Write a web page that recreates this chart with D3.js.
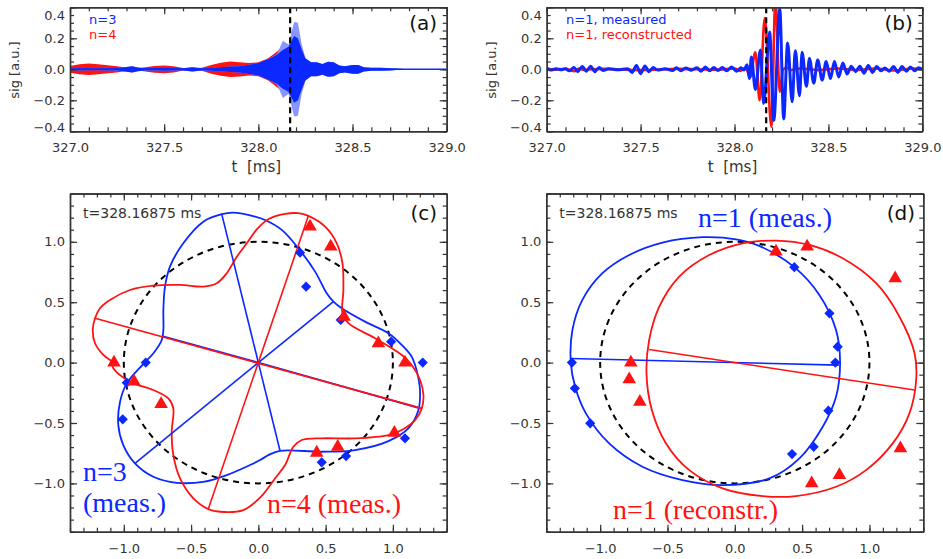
<!DOCTYPE html>
<html><head><meta charset="utf-8">
<script src="https://cdn.jsdelivr.net/npm/d3@7"></script>
<style>body{margin:0;background:#fff}svg{display:block}</style>
</head><body><svg id="c" width="943" height="559"></svg>
<script>
// ---------- DATA ----------
const tMark = 328.16875;
// panel (a): envelope of the dense n=3 / n=4 signals
const tA   = [327.00,327.05,327.10,327.15,327.20,327.25,327.30,327.33,327.36,327.40,327.45,327.50,327.55,327.60,327.65,327.70,327.75,327.80,327.85,327.90,327.95,328.00,328.05,328.10,328.13,328.16,328.19,328.21,328.23,328.25,328.28,328.31,328.34,328.37,328.40,328.43,328.46,328.50,328.53,328.56,328.60,328.65,328.70,328.75,328.80,328.90,329.00];
const n4Amp= [0.022,0.032,0.037,0.032,0.026,0.020,0.010,0.006,0.006,0.014,0.022,0.025,0.020,0.008,0.006,0.010,0.028,0.042,0.050,0.046,0.040,0.045,0.070,0.115,0.150,0.155,0.140,0.100,0.060,0.040,0.020,0.010,0.006,0.005,0.004,0.004,0.004,0.003,0.003,0.003,0.002,0.002,0.002,0.001,0.001,0.001,0.001];
const n3Amp= [0.005,0.007,0.006,0.006,0.007,0.008,0.015,0.020,0.012,0.007,0.008,0.009,0.008,0.007,0.014,0.007,0.009,0.013,0.018,0.020,0.030,0.040,0.065,0.095,0.125,0.145,0.215,0.200,0.130,0.070,0.045,0.045,0.035,0.048,0.045,0.025,0.020,0.028,0.028,0.014,0.010,0.010,0.007,0.003,0.001,0.001,0.001];
const n3Peak=[0.005,0.007,0.006,0.006,0.007,0.008,0.015,0.020,0.012,0.007,0.008,0.009,0.008,0.007,0.014,0.007,0.009,0.013,0.018,0.020,0.030,0.040,0.065,0.100,0.185,0.160,0.305,0.300,0.160,0.075,0.045,0.045,0.035,0.048,0.045,0.025,0.020,0.028,0.028,0.014,0.010,0.010,0.007,0.003,0.001,0.001,0.001];
// panel (b): extrema of n=1 measured / reconstructed signals
const n1Meas = [[327.00,0.010],[327.02,-0.005],[327.05,0.003],[327.08,-0.003],[327.10,0.004],[327.12,-0.010],[327.145,0.012],[327.165,-0.015],[327.19,0.018],[327.21,-0.012],[327.235,0.020],[327.255,-0.015],[327.28,0.012],[327.30,-0.008],[327.33,0.004],[327.38,-0.003],[327.43,0.004],[327.455,-0.020],[327.478,0.025],[327.50,-0.028],[327.523,0.022],[327.545,-0.015],[327.567,0.012],[327.59,-0.005],[327.63,0.003],[327.67,-0.008],[327.69,0.010],[327.715,-0.010],[327.74,0.008],[327.77,-0.006],[327.80,0.010],[327.822,-0.012],[327.845,0.015],[327.868,-0.010],[327.89,0.012],[327.912,-0.008],[327.935,0.012],[327.96,-0.010],[327.985,0.015],[328.01,-0.012],[328.035,0.010],[328.05,-0.005],[328.067,0.030],[328.079,-0.060],[328.09,0.080],[328.111,-0.130],[328.138,0.125],[328.155,-0.220],[328.187,0.240],[328.209,-0.330],[328.241,0.390],[328.262,-0.320],[328.283,0.170],[328.307,-0.210],[328.324,0.120],[328.346,-0.170],[328.36,0.110],[328.383,-0.110],[328.399,0.070],[328.422,-0.090],[328.443,0.060],[328.467,-0.070],[328.488,0.050],[328.511,-0.060],[328.532,0.050],[328.555,-0.050],[328.577,0.040],[328.60,-0.030],[328.622,0.020],[328.645,-0.015],[328.667,0.020],[328.69,-0.025],[328.712,0.025],[328.735,-0.020],[328.757,0.018],[328.78,-0.010],[328.80,0.008],[328.825,-0.012],[328.847,0.018],[328.87,-0.020],[328.892,0.018],[328.915,-0.012],[328.937,0.015],[328.96,-0.010],[328.98,0.010],[329.00,0.000]];
const n1Rec = [[327.00,0.005],[327.05,-0.003],[327.10,0.003],[327.15,-0.012],[327.17,0.005],[327.20,-0.003],[327.30,0.003],[327.50,-0.005],[327.70,0.003],[327.90,-0.003],[328.00,0.005],[328.03,-0.010],[328.06,0.010],[328.084,-0.050],[328.111,0.110],[328.134,-0.200],[328.161,0.330],[328.196,-0.370],[328.218,0.450],[328.241,-0.145],[328.259,0.000],[328.28,0.010],[328.30,-0.005],[328.35,0.005],[328.45,-0.005],[328.55,0.005],[328.65,-0.005],[328.75,0.005],[328.85,-0.008],[328.95,0.005],[329.00,0.000]];
// panel (c): n=3 and n=4 mode shapes (x,y), probe values, spokes
const n3Shape = [[1.165,-0.02],[1.14,0.049],[1.066,0.146],[0.967,0.243],[0.793,0.339],[0.62,0.45],[0.558,0.505],[0.508,0.574],[0.422,0.753],[0.297,0.947],[0.174,1.099],[0.05,1.181],[-0.025,1.209],[-0.186,1.242],[-0.272,1.229],[-0.409,1.167],[-0.558,0.988],[-0.657,0.795],[-0.694,0.629],[-0.706,0.436],[-0.706,0.27],[-0.718,0.187],[-0.78,0.077],[-0.855,-0.012],[-0.978,-0.172],[-1.028,-0.324],[-1.041,-0.517],[-1.004,-0.683],[-0.917,-0.834],[-0.781,-0.945],[-0.607,-0.995],[-0.409,-0.987],[-0.235,-0.931],[-0.062,-0.848],[0.013,-0.807],[0.074,-0.766],[0.161,-0.73],[0.471,-0.738],[0.719,-0.724],[0.967,-0.65],[1.115,-0.545],[1.19,-0.393],[1.202,-0.241],[1.19,-0.13]];
const n4Shape = [[1.14,-0.02],[1.066,0.063],[0.868,0.201],[0.669,0.326],[0.625,0.408],[0.632,0.601],[0.625,0.823],[0.583,0.988],[0.496,1.126],[0.372,1.215],[0.297,1.237],[0.199,1.231],[0.074,1.187],[-0.01,1.105],[-0.086,0.988],[-0.16,0.877],[-0.235,0.74],[-0.309,0.657],[-0.409,0.629],[-0.582,0.643],[-0.781,0.637],[-0.954,0.601],[-1.103,0.519],[-1.177,0.45],[-1.214,0.367],[-1.231,0.27],[-1.214,0.16],[-1.152,0.063],[-1.09,0.008],[-1.078,-0.047],[-0.954,-0.158],[-0.781,-0.227],[-0.669,-0.296],[-0.632,-0.379],[-0.644,-0.572],[-0.632,-0.766],[-0.582,-0.959],[-0.483,-1.124],[-0.372,-1.213],[-0.285,-1.235],[-0.112,-1.221],[0.02,-1.11],[0.124,-0.959],[0.199,-0.848],[0.26,-0.697],[0.323,-0.641],[0.471,-0.627],[0.719,-0.627],[0.967,-0.6],[1.066,-0.558],[1.165,-0.476],[1.215,-0.379],[1.227,-0.268],[1.202,-0.144]];
const n3Probes = [[0.31,0.91],[0.355,0.629],[0.612,0.353],[0.987,0.173],[1.222,0.0],[1.09,-0.627],[0.652,-0.774],[0.471,-0.826],[-1.008,-0.47],[-0.978,-0.166],[-0.837,0.0]];
const n4Probes = [[0.384,1.126],[0.538,0.96],[0.637,0.38],[0.892,0.16],[1.09,0.0],[1.011,-0.581],[0.59,-0.697],[0.434,-0.746],[-0.723,-0.343],[-0.924,-0.158],[-1.073,0.0]];
const n3Spokes = [[[0,0],[-0.272,1.229]],[[0,0],[0.558,0.505]],[[0,0],[-0.917,-0.834]],[[0,0],[0.161,-0.73]],[[0,0],[1.202,-0.379]],[[0,0],[-0.715,0.22]]];
const n4Spokes = [[[-1.214,0.367],[1.215,-0.379]],[[0.372,1.215],[-0.372,-1.213]]];
// panel (d): n=1 measured / reconstructed shapes, probes, spokes
const n1MeasShape = [[0.782,0],[0.752,0.27],[0.628,0.56],[0.442,0.79],[0.182,0.966],[0.009,1.021],[-0.239,1.038],[-0.537,0.993],[-0.784,0.891],[-0.983,0.74],[-1.132,0.519],[-1.206,0.27],[-1.218,0],[-1.186,-0.2],[-1.106,-0.42],[-0.933,-0.669],[-0.686,-0.862],[-0.388,-0.973],[-0.091,-1.014],[0.257,-0.959],[0.48,-0.793],[0.653,-0.531],[0.752,-0.282]];
const n1RecShape = [[1.347,-0.144],[1.335,0.077],[1.223,0.38],[1.05,0.657],[0.801,0.864],[0.554,0.974],[0.306,1.01],[0.058,0.988],[-0.19,0.891],[-0.413,0.712],[-0.561,0.463],[-0.636,0.187],[-0.656,-0.089],[-0.616,-0.393],[-0.511,-0.669],[-0.338,-0.89],[-0.091,-1.041],[0.207,-1.105],[0.455,-1.105],[0.752,-1.028],[0.975,-0.89],[1.173,-0.669],[1.297,-0.42]];
const n1MeasProbes = [[-1.21,0],[-1.188,-0.213],[-1.074,-0.503],[0.442,0.79],[0.703,0.408],[0.764,0.132],[0.747,0],[0.695,-0.398],[0.586,-0.697],[0.425,-0.757]];
const n1RecProbes = [[0.306,0.919],[0.537,0.96],[1.191,0.698],[1.23,-0.71],[0.777,-0.931],[0.571,-1.0],[-0.705,-0.324],[-0.784,-0.138],[-0.772,0]];
const n1MeasSpoke = [[-1.22,0.034],[0.772,-0.021]];
const n1RecSpoke = [[-0.636,0.108],[1.335,-0.227]];
// ticks
const tTicks = [327.0,327.5,328.0,328.5,329.0];
const sigTicks = [-0.4,-0.2,0.0,0.2,0.4];
const posTicks = [-1.0,-0.5,0.0,0.5,1.0];

// ---------- DRAW ----------
const BLUE="#0a28ff", LBLUE="#8a96ff", RED="#ff1212", AX="#333";
const svg=d3.select("#c");
const FONT="DejaVu Sans, sans-serif", SERIF="Liberation Serif, Times New Roman, serif";

function frame(x,y,xMaj,xMin,yMaj,yMin,xf,yf,xpad){
  const [xl,xr]=x.range(), [yb,yt]=y.range();
  const g=svg.append("g");
  const sides=[
    [d3.axisBottom,x,`translate(0,${yb})`,xMaj,xMin,xf,xpad],
    [d3.axisTop,x,`translate(0,${yt})`,xMaj,xMin,null,0],
    [d3.axisLeft,y,`translate(${xl},0)`,yMaj,yMin,yf,5],
    [d3.axisRight,y,`translate(${xr},0)`,yMaj,yMin,null,0]];
  const out={};
  sides.forEach(([ax,sc,tr,maj,min,f,pad],i)=>{
    const a=g.append("g").attr("transform",tr);
    a.call(ax(sc).tickValues(min).tickSizeInner(-4).tickSizeOuter(0).tickFormat(""));
    const b=a.append("g").call(ax(sc).tickValues(maj).tickSizeInner(-7).tickSizeOuter(0).tickPadding(pad).tickFormat(f?f:""));
    a.selectAll("path").attr("stroke",AX).attr("stroke-width",1.4);
    a.selectAll("line").attr("stroke",AX).attr("stroke-width",1.2);
    b.selectAll("text").attr("font-family",FONT).attr("font-size",13).attr("fill",AX);
    out[i]=b;
  });
  return out;
}
function clip(id,x,y){
  const [xl,xr]=x.range(), [yb,yt]=y.range();
  svg.append("clipPath").attr("id",id).append("rect").attr("x",xl).attr("y",yt).attr("width",xr-xl).attr("height",yb-yt);
  return svg.append("g").attr("clip-path",`url(#${id})`);
}
const f1=d3.format(".1f");

// ---- panel (a) & (b) ----
const ySig=d3.scaleLinear().domain([-0.4,0.4]).range([131.3,7.3]);
const xa=d3.scaleLinear().domain([327,329]).range([70,446.7]);
const xb=d3.scaleLinear().domain([327,329]).range([546.7,922.3]);
const tMin=d3.range(327,329.001,0.1), sMin=d3.range(-0.4,0.401,0.05);

// (a)
{
  const g=clip("ca",xa,ySig);
  const area=(amp)=>d3.area().x((d,i)=>xa(tA[i])).y0((d,i)=>ySig(-amp[i])).y1((d,i)=>ySig(amp[i]));
  g.append("path").datum(tA).attr("d",area(n4Amp)).attr("fill",RED);
  g.append("path").datum(tA).attr("d",area(n3Peak)).attr("fill",LBLUE);
  g.append("path").datum(tA).attr("d",area(n3Amp)).attr("fill",BLUE);
  g.append("line").attr("x1",xa(327)).attr("x2",xa(329)).attr("y1",ySig(0)).attr("y2",ySig(0)).attr("stroke",BLUE).attr("stroke-width",1.5);
  g.append("line").attr("x1",xa(tMark)).attr("x2",xa(tMark)).attr("y1",ySig(0.4)).attr("y2",ySig(-0.4)).attr("stroke","#000").attr("stroke-width",2.2).attr("stroke-dasharray","6,4");
}
// (b)
{
  const g=clip("cb",xb,ySig);
  const ln=d3.line().x(d=>xb(d[0])).y(d=>ySig(d[1])).curve(d3.curveMonotoneX);
  g.append("path").datum(n1Rec).attr("d",ln).attr("fill","none").attr("stroke",RED).attr("stroke-width",2.6);
  g.append("path").datum(n1Meas).attr("d",ln).attr("fill","none").attr("stroke",BLUE).attr("stroke-width",3);
  g.append("line").attr("x1",xb(tMark)).attr("x2",xb(tMark)).attr("y1",ySig(0.4)).attr("y2",ySig(-0.4)).attr("stroke","#000").attr("stroke-width",2.2).attr("stroke-dasharray","6,4");
}
[xa,xb].forEach((x,k)=>{
  const ax=frame(x,ySig,tTicks,tMin,sigTicks,sMin,f1,f1,11);
  ax[2].selectAll("text").attr("dy",d=>d>0.35?"0.92em":d<-0.35?"0.0em":"0.32em");
  const cx=(x.range()[0]+x.range()[1])/2;
  svg.append("text").attr("x",cx-2).attr("y",172).attr("text-anchor","middle").attr("font-family",FONT).attr("font-size",15).attr("fill",AX).style("white-space","pre").text("t  [ms]");
  svg.append("text").attr("transform",`translate(${x.range()[0]-51},70) rotate(-90)`).attr("text-anchor","middle").attr("font-family",FONT).attr("font-size",13).attr("fill",AX).text("sig [a.u.]");
  svg.append("text").attr("x",x.range()[1]-9.5).attr("y",30).attr("text-anchor","end").attr("font-family",FONT).attr("font-size",20).attr("fill","#111").text(k===0?"(a)":"(b)");
});
svg.append("text").attr("x",89).attr("y",24).attr("font-family",FONT).attr("font-size",13).attr("fill",BLUE).text("n=3");
svg.append("text").attr("x",89).attr("y",39).attr("font-family",FONT).attr("font-size",13).attr("fill",RED).text("n=4");
svg.append("text").attr("x",566).attr("y",24).attr("font-family",FONT).attr("font-size",13).attr("fill",BLUE).text("n=1, measured");
svg.append("text").attr("x",566).attr("y",39).attr("font-family",FONT).attr("font-size",13).attr("fill",RED).text("n=1, reconstructed");

// ---- panel (c) & (d) ----
const yPos=d3.scaleLinear().domain([-1.4,1.4]).range([531.7,193.5]);
const xc=d3.scaleLinear().domain([-1.4,1.4]).range([70,446.7]);
const xd=d3.scaleLinear().domain([-1.4,1.4]).range([546.3,923.3]);
const pMin=d3.range(-1.4,1.401,0.1);

function polarPanel(x,id,shapes,spokes,probes){
  const g=clip(id,x,yPos);
  const closed=d3.line().x(d=>x(d[0])).y(d=>yPos(d[1])).curve(d3.curveCatmullRomClosed.alpha(0.5));
  // unit reference circle
  g.append("ellipse").attr("cx",x(0)).attr("cy",yPos(0)).attr("rx",x(1)-x(0)).attr("ry",yPos(0)-yPos(1))
    .attr("fill","none").attr("stroke","#000").attr("stroke-width",2).attr("stroke-dasharray","6,5");
  shapes.forEach(([data,col])=>g.append("path").datum(data).attr("d",closed).attr("fill","none").attr("stroke",col).attr("stroke-width",1.8));
  spokes.forEach(([data,col])=>data.forEach(s=>g.append("line").attr("x1",x(s[0][0])).attr("y1",yPos(s[0][1])).attr("x2",x(s[1][0])).attr("y2",yPos(s[1][1])).attr("stroke",col).attr("stroke-width",1.6)));
  probes.forEach(([data,col,type])=>{
    const sym=d3.symbol().type(type==="d"?d3.symbolSquare:d3.symbolTriangle).size(type==="d"?52:80);
    g.selectAll(null).data(data).enter().append("path").attr("d",sym)
      .attr("transform",d=>`translate(${x(d[0])},${yPos(d[1])})${type==="d"?" rotate(45)":""}`).attr("fill",col);
  });
  frame(x,yPos,posTicks,pMin,posTicks,pMin,f1,f1,12);
  svg.append("text").attr("x",x.range()[0]+13).attr("y",218).attr("font-family",FONT).attr("font-size",14).attr("fill",AX).text("t=328.16875 ms");
}
polarPanel(xc,"cc",[[n3Shape,BLUE],[n4Shape,RED]],[[n3Spokes,BLUE],[n4Spokes,RED]],[[n3Probes,BLUE,"d"],[n4Probes,RED,"t"]]);
polarPanel(xd,"cd",[[n1MeasShape,BLUE],[n1RecShape,RED]],[[[n1MeasSpoke],BLUE],[[n1RecSpoke],RED]],[[n1MeasProbes,BLUE,"d"],[n1RecProbes,RED,"t"]]);
svg.append("text").attr("x",437).attr("y",220).attr("text-anchor","end").attr("font-family",FONT).attr("font-size",20).attr("fill","#111").text("(c)");
svg.append("text").attr("x",915).attr("y",220).attr("text-anchor","end").attr("font-family",FONT).attr("font-size",20).attr("fill","#111").text("(d)");
function big(x,y,col,t){svg.append("text").attr("x",x).attr("y",y).attr("font-family",SERIF).attr("font-size",28).attr("fill",col).text(t);}
big(83,481,BLUE,"n=3");
big(83,512,BLUE,"(meas.)");
big(267,513,RED,"n=4 (meas.)");
big(698,227,BLUE,"n=1 (meas.)");
big(613,519,RED,"n=1 (reconstr.)");
</script></body></html>
